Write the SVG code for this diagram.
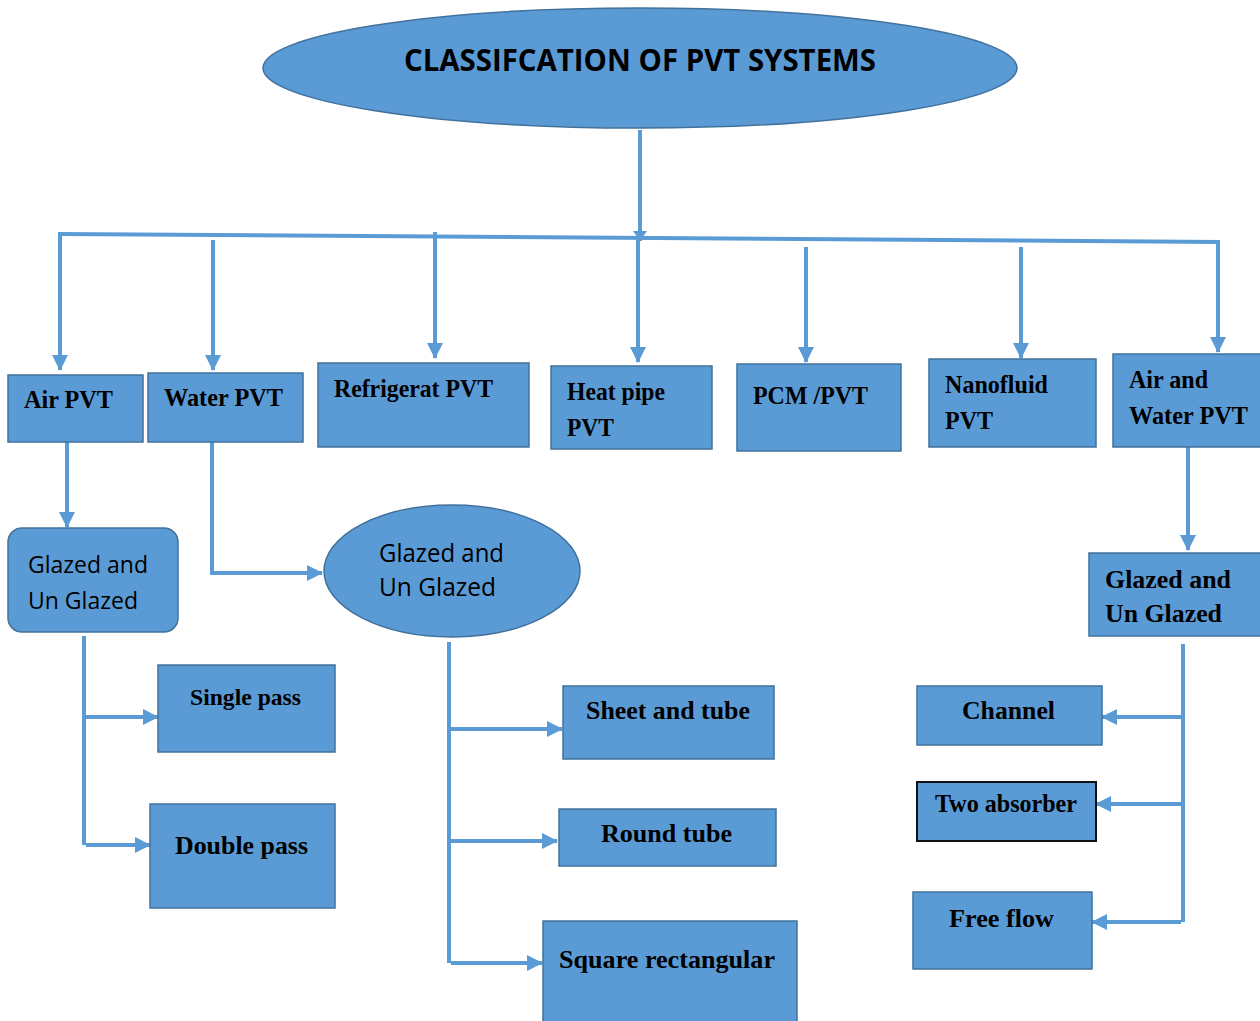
<svg xmlns="http://www.w3.org/2000/svg" width="1260" height="1021" viewBox="0 0 1260 1021">
<defs>
<marker id="ah" viewBox="0 0 16 16" refX="15" refY="8" markerWidth="16" markerHeight="16" markerUnits="userSpaceOnUse" orient="auto">
<path d="M0,0 L16,8 L0,16 Z" fill="#5b9bd5"/>
</marker>
<marker id="ahs" viewBox="0 0 10 14" refX="10" refY="7" markerWidth="10" markerHeight="14" markerUnits="userSpaceOnUse" orient="auto">
<path d="M0,0 L10,7 L0,14 Z" fill="#5b9bd5"/>
</marker>
<style>
.n{fill:#5b9bd5;stroke:#41719c;stroke-width:1.5}
.t{font-family:"Liberation Serif","Times New Roman",serif;font-weight:bold;font-size:26px;fill:#000}
.s{font-family:"Open Sans","Liberation Sans",sans-serif;font-size:23px;fill:#000}
.c{fill:none;stroke:#5b9bd5;stroke-width:4}
.a{marker-end:url(#ah)}
</style>
</defs>
<rect width="1260" height="1021" fill="#fff"/>
<g id="connectors">
<path class="c" d="M640,130 V241" marker-end="url(#ahs)"/>
<path class="c" d="M58,234 L1220,242"/>
<path class="c a" d="M60,234 V370"/>
<path class="c a" d="M213,240 V370"/>
<path class="c a" d="M435,232 V358"/>
<path class="c a" d="M638,240 V362"/>
<path class="c a" d="M806,247 V362"/>
<path class="c a" d="M1021,247 V358"/>
<path class="c a" d="M1218,242 V352"/>
<path class="c a" d="M67,442 V527"/>
<path class="c a" d="M212,442 V573 H322"/>
<path class="c" d="M84,636 V845"/>
<path class="c a" d="M86,717 H158"/>
<path class="c a" d="M86,845 H150"/>
<path class="c" d="M449,642 V963"/>
<path class="c a" d="M451,729 H562"/>
<path class="c a" d="M451,841 H557"/>
<path class="c a" d="M451,963 H542"/>
<path class="c a" d="M1188,447 V550"/>
<path class="c" d="M1183,644 V922"/>
<path class="c a" d="M1181,717 H1102"/>
<path class="c a" d="M1181,804 H1096"/>
<path class="c a" d="M1181,922 H1092"/>
</g>
<g id="title">
<ellipse class="n" cx="640" cy="68" rx="377" ry="60"/>
<text x="404" y="71" textLength="472" lengthAdjust="spacingAndGlyphs" style="font-family:'Open Sans','Liberation Sans',sans-serif;font-weight:bold;font-size:30px;fill:#000">CLASSIFCATION OF PVT SYSTEMS</text>
</g>
<g id="air-pvt"><rect class="n" x="8" y="375" width="135" height="67"/><text class="t" x="24" y="408" textLength="89" lengthAdjust="spacingAndGlyphs">Air PVT</text></g>
<g id="water-pvt"><rect class="n" x="148" y="373" width="155" height="69"/><text class="t" x="164" y="406" textLength="119" lengthAdjust="spacingAndGlyphs">Water PVT</text></g>
<g id="refrigerat-pvt"><rect class="n" x="318" y="363" width="211" height="84"/><text class="t" x="334" y="397" textLength="159" lengthAdjust="spacingAndGlyphs">Refrigerat PVT</text></g>
<g id="heat-pipe-pvt"><rect class="n" x="551" y="366" width="161" height="83"/><text class="t" x="567" y="400" textLength="98" lengthAdjust="spacingAndGlyphs">Heat pipe</text><text class="t" x="567" y="436" textLength="47" lengthAdjust="spacingAndGlyphs">PVT</text></g>
<g id="pcm-pvt"><rect class="n" x="737" y="364" width="164" height="87"/><text class="t" x="753" y="404" textLength="115" lengthAdjust="spacingAndGlyphs">PCM /PVT</text></g>
<g id="nanofluid-pvt"><rect class="n" x="929" y="359" width="167" height="88"/><text class="t" x="945" y="393" textLength="103" lengthAdjust="spacingAndGlyphs">Nanofluid</text><text class="t" x="945" y="429" textLength="48" lengthAdjust="spacingAndGlyphs">PVT</text></g>
<g id="air-water-pvt"><rect class="n" x="1113" y="354" width="150" height="93"/><text class="t" x="1129" y="388" textLength="79" lengthAdjust="spacingAndGlyphs">Air and</text><text class="t" x="1129" y="424" textLength="119" lengthAdjust="spacingAndGlyphs">Water PVT</text></g>
<g id="air-glazed"><rect class="n" x="8" y="528" width="170" height="104" rx="14"/><text class="s" x="28" y="573" textLength="120" lengthAdjust="spacingAndGlyphs">Glazed and</text><text class="s" x="28" y="609" textLength="110" lengthAdjust="spacingAndGlyphs">Un Glazed</text></g>
<g id="water-glazed"><ellipse class="n" cx="452" cy="571" rx="128" ry="66"/><text class="s" x="379" y="562" textLength="125" lengthAdjust="spacingAndGlyphs" style="font-size:25px">Glazed and</text><text class="s" x="379" y="596" textLength="117" lengthAdjust="spacingAndGlyphs" style="font-size:25px">Un Glazed</text></g>
<g id="aw-glazed"><rect class="n" x="1089" y="553" width="174" height="83"/><text class="t" x="1105" y="588" textLength="126" lengthAdjust="spacingAndGlyphs">Glazed and</text><text class="t" x="1105" y="622" textLength="117" lengthAdjust="spacingAndGlyphs">Un Glazed</text></g>
<g id="single-pass"><rect class="n" x="158" y="665" width="177" height="87"/><text class="t" x="190" y="705" textLength="111" lengthAdjust="spacingAndGlyphs" style="font-size:24px">Single pass</text></g>
<g id="double-pass"><rect class="n" x="150" y="804" width="185" height="104"/><text class="t" x="175" y="854" textLength="133" lengthAdjust="spacingAndGlyphs">Double pass</text></g>
<g id="sheet-and-tube"><rect class="n" x="563" y="686" width="211" height="73"/><text class="t" x="586" y="719" textLength="164" lengthAdjust="spacingAndGlyphs">Sheet and tube</text></g>
<g id="round-tube"><rect class="n" x="559" y="809" width="217" height="57"/><text class="t" x="601" y="842" textLength="131" lengthAdjust="spacingAndGlyphs">Round tube</text></g>
<g id="square-rectangular"><rect class="n" x="543" y="921" width="254" height="104"/><text class="t" x="559" y="968" textLength="216" lengthAdjust="spacingAndGlyphs">Square rectangular</text></g>
<g id="channel"><rect class="n" x="917" y="686" width="185" height="59"/><text class="t" x="962" y="719" textLength="93" lengthAdjust="spacingAndGlyphs">Channel</text></g>
<g id="two-absorber"><rect x="917" y="782" width="179" height="59" fill="#5b9bd5" stroke="#111" stroke-width="2"/><text class="t" x="935" y="812" textLength="142" lengthAdjust="spacingAndGlyphs" style="font-size:25px">Two absorber</text></g>
<g id="free-flow"><rect class="n" x="913" y="892" width="179" height="77"/><text class="t" x="949" y="927" textLength="105" lengthAdjust="spacingAndGlyphs">Free flow</text></g>
</svg>
